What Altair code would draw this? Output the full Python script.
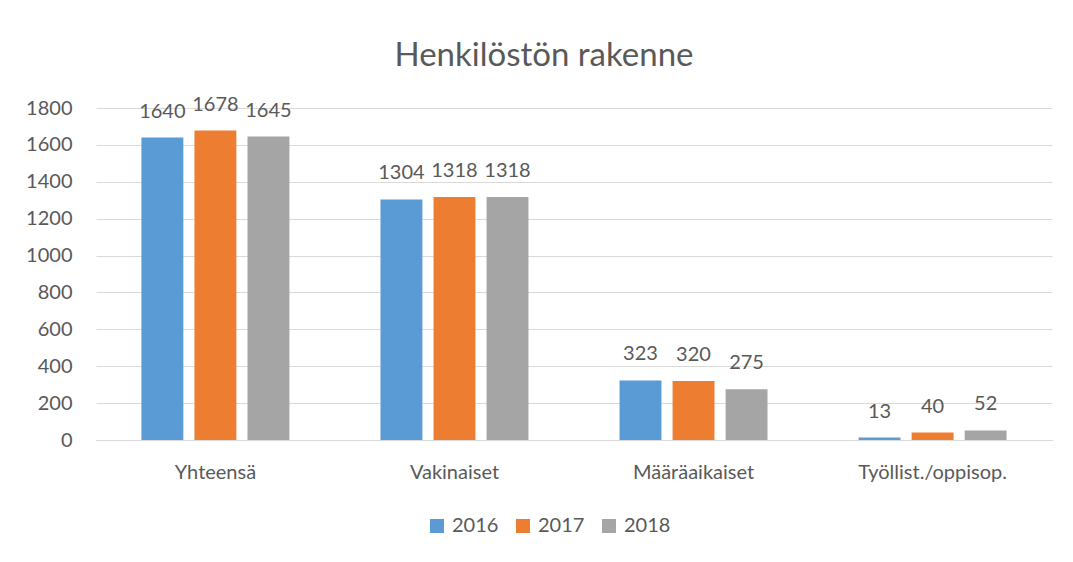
import altair as alt
import pandas as pd

categories = ["Yhteensä", "Vakinaiset", "Määräaikaiset", "Työllist./oppisop."]
years = ["2016", "2017", "2018"]
values_2016 = [1640, 1304, 323, 13]
values_2017 = [1678, 1318, 320, 40]
values_2018 = [1645, 1318, 275, 52]
colors = ["#5B9BD5", "#ED7D31", "#A5A5A5"]

rows = []
for yr, vals in zip(years, [values_2016, values_2017, values_2018]):
    for c, v in zip(categories, vals):
        rows.append({"category": c, "year": yr, "value": v})
df = pd.DataFrame(rows)

FONT = "Lato"
TXT = "#595959"

x = alt.X("category:N", sort=categories, title=None,
          scale=alt.Scale(paddingInner=0.381, paddingOuter=0.19),
          axis=alt.Axis(labelAngle=0, labelFontSize=20, labelColor=TXT, labelFont=FONT,
                        ticks=False, domainColor="#D9D9D9", labelPadding=22, grid=False))
xo = alt.XOffset("year:N", sort=years, scale=alt.Scale(paddingInner=0.21, paddingOuter=0))
y = alt.Y("value:Q", title=None,
          scale=alt.Scale(domain=[0, 1800], nice=False),
          axis=alt.Axis(values=list(range(0, 1801, 200)), format="d", labelFontSize=20,
                        labelColor=TXT, labelFont=FONT, ticks=False, domain=False,
                        labelPadding=24, gridColor="#D9D9D9", gridWidth=1))
color = alt.Color("year:N", sort=years, scale=alt.Scale(domain=years, range=colors),
                  legend=alt.Legend(title=None, orient="none", direction="horizontal",
                                    legendX=331, legendY=408, symbolType="square",
                                    symbolSize=196, symbolStrokeWidth=0, labelFontSize=20,
                                    labelColor=TXT, labelFont=FONT, columnPadding=14,
                                    labelOffset=5))

bars = alt.Chart(df).mark_bar().encode(x=x, xOffset=xo, y=y, color=color)
labels = alt.Chart(df).mark_text(baseline="middle", dy=-26, fontSize=20, font=FONT,
                                 color=TXT).encode(
    x=x, xOffset=xo, y=y, text=alt.Text("value:Q"))

chart = (bars + labels).properties(
    width=956, height=332,
    autosize=alt.AutoSizeParams(type="none"),
    padding={"left": 88, "top": 100, "right": 13, "bottom": 114},
    title=alt.TitleParams("Henkilöstön rakenne", fontSize=33, font=FONT, fontWeight="normal",
                          color=TXT, anchor="middle", offset=22, dx=-30),
).configure_view(stroke=None)

chart.save("out.html", embed_options={"renderer": "svg", "actions": False})
